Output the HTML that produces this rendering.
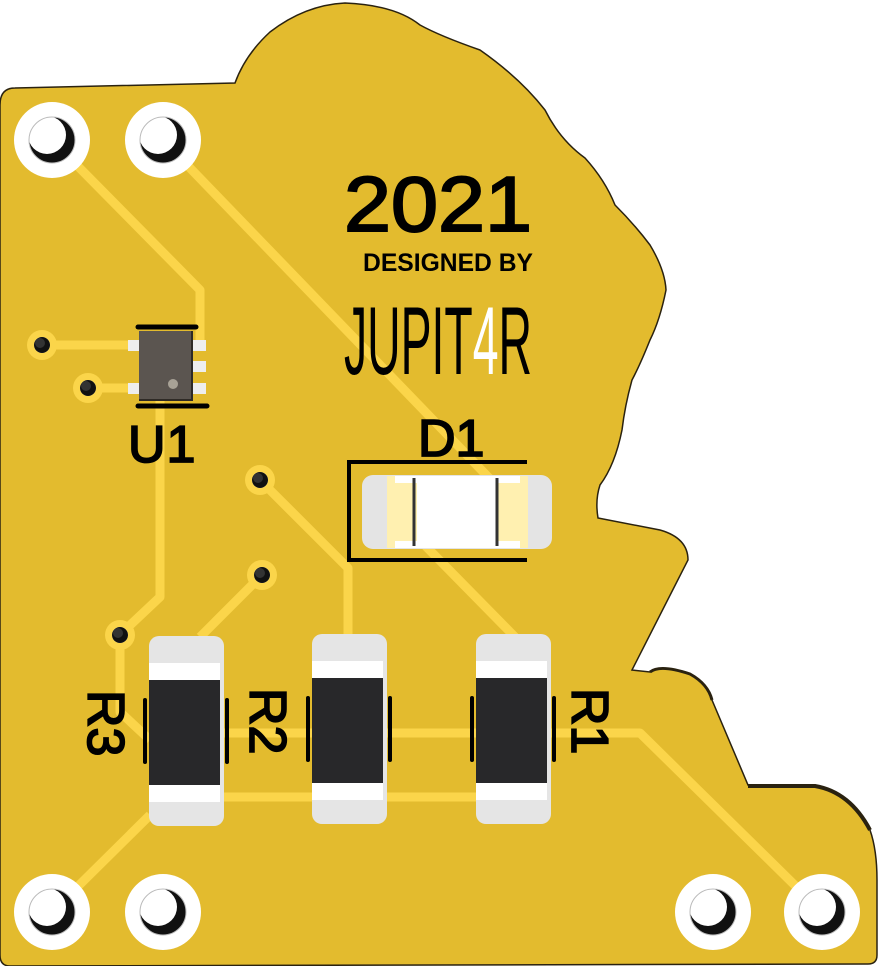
<!DOCTYPE html>
<html><head><meta charset="utf-8"><style>
html,body{margin:0;padding:0;background:#fff;}
svg{display:block;}
text{font-family:"Liberation Sans",sans-serif;}
</style></head><body>
<svg width="880" height="966" viewBox="0 0 880 966" xmlns="http://www.w3.org/2000/svg">
<defs>
<g id="mh">
<circle r="38" fill="#fff"/>
<circle r="23" fill="#111"/>
<circle cx="-5" cy="-5" r="19" fill="#fff"/>
<circle r="23" fill="none" stroke="#bbb" stroke-width="1"/>
</g>
<g id="via">
<circle r="15" fill="#fbd54a"/>
<circle r="8" fill="#fff"/>
<circle r="8" fill="#111"/>
<circle cx="-2" cy="-2" r="5" fill="#333"/>
</g>
</defs>
<!-- board -->
<path d="M0,105 Q0,88 15,88 L235,83 Q245,55 270,32 Q305,5 345,3 Q395,5 420,25 Q440,36 480,50 Q520,78 545,110 Q560,140 585,158 Q605,180 615,205 Q635,225 650,245 Q665,270 666,290 Q660,320 650,340 Q640,365 632,380 Q625,405 622,430 Q615,465 600,485 Q595,500 598,518 L660,530 Q688,538 688,560 L632,670 L650,672 Q660,664 690,674 Q708,684 712,700 L748,785 L815,785 Q850,792 870,830 Q877,850 877,880 L877,955 Q877,964 868,964 L10,966 Q0,966 0,955 Z" fill="#e3bb2e" stroke="#2a2210" stroke-width="1.5"/>
<path d="M650,672 Q660,664 690,674 Q708,684 712,700" fill="none" stroke="#2a2210" stroke-width="3"/>
<path d="M748,786 L815,786 Q850,792 870,830" fill="none" stroke="#2a2210" stroke-width="4"/>
<!-- traces -->
<g stroke="#fbd54a" stroke-width="9" fill="none" stroke-linejoin="round">
<path d="M52,140 L200,290 L200,345"/>
<path d="M163,140 L520,510"/>
<path d="M400,520 L515,637"/>
<path d="M42,345 L140,345"/>
<path d="M88,388 L140,388"/>
<path d="M160,395 L160,597 L125,630"/>
<path d="M120,640 L120,712 L150,740"/>
<path d="M262,575 L200,637"/>
<path d="M260,480 L348,568 L348,636"/>
<path d="M220,733 L480,733"/>
<path d="M220,797 L480,797"/>
<path d="M550,733 L640,733 L822,912"/>
<path d="M150,815 L52,912"/>
</g>
<use href="#via" x="42" y="345"/>
<use href="#via" x="88" y="388"/>
<use href="#via" x="260" y="480"/>
<use href="#via" x="262" y="575"/>
<use href="#via" x="120" y="635"/>
<use href="#mh" x="52" y="140"/>
<use href="#mh" x="163" y="140"/>
<use href="#mh" x="52" y="912"/>
<use href="#mh" x="163" y="912"/>
<use href="#mh" x="713" y="912"/>
<use href="#mh" x="822" y="912"/>
<!-- U1 -->
<g>
<rect x="128" y="340" width="12" height="11" fill="#eee"/>
<rect x="128" y="383" width="12" height="11" fill="#eee"/>
<rect x="192" y="340" width="14" height="11" fill="#eee"/>
<rect x="192" y="361" width="14" height="11" fill="#eee"/>
<rect x="192" y="383" width="14" height="11" fill="#eee"/>
<rect x="139" y="331" width="54" height="70" fill="#2e2a26"/>
<rect x="139" y="331" width="52" height="68" fill="#5b5550"/>
<circle cx="173" cy="384" r="5" fill="#a8a296"/>
<line x1="138" y1="327" x2="196" y2="327" stroke="#000" stroke-width="5" stroke-linecap="round"/>
<line x1="138" y1="406" x2="207" y2="406" stroke="#000" stroke-width="5" stroke-linecap="round"/>
<text x="128" y="462" font-size="52" fill="#000" stroke="#000" stroke-width="1.8" style="letter-spacing:1px">U1</text>
</g>
<!-- logo -->
<text x="344" y="231" font-size="78" fill="#000" stroke="#000" stroke-width="2" textLength="188" lengthAdjust="spacingAndGlyphs">2021</text>
<text x="363" y="271" font-size="25" font-weight="bold" fill="#000" textLength="170" lengthAdjust="spacingAndGlyphs">DESIGNED BY</text>
<g transform="translate(344,374) scale(1,2.2)">
<text x="0" y="0" font-size="44" fill="#000" textLength="188" lengthAdjust="spacingAndGlyphs">JUPIT<tspan fill="#fff">4</tspan>R</text>
</g>
<!-- D1 -->
<text x="418" y="456" font-size="52" fill="#000" stroke="#000" stroke-width="1.8">D1</text>
<path d="M527,462 L349,462 L349,560 L527,560" fill="none" stroke="#000" stroke-width="4"/>
<rect x="362" y="475" width="190" height="74" rx="11" fill="#e4e4e4"/>
<rect x="387" y="476" width="30" height="72" fill="#fff0b0"/>
<rect x="498" y="476" width="30" height="72" fill="#fff0b0"/>
<rect x="395" y="476" width="22" height="7" fill="#fff"/><rect x="395" y="541" width="22" height="7" fill="#fff"/>
<rect x="498" y="476" width="22" height="7" fill="#fff"/><rect x="498" y="541" width="22" height="7" fill="#fff"/>
<rect x="417" y="476" width="81" height="72" fill="#fff"/>
<line x1="414" y1="478" x2="414" y2="546" stroke="#333" stroke-width="3"/>
<line x1="497" y1="478" x2="497" y2="546" stroke="#333" stroke-width="3"/>
<!-- resistors -->
<g id="res">
<rect x="149" y="636" width="75" height="190" rx="10" fill="#e5e5e5"/>
<rect x="149" y="663" width="71" height="17" fill="#fff"/>
<rect x="149" y="680" width="71" height="105" fill="#28282a"/>
<rect x="149" y="785" width="71" height="17" fill="#fff"/>
<line x1="145" y1="700" x2="145" y2="762" stroke="#000" stroke-width="4" stroke-linecap="round"/>
<line x1="227" y1="700" x2="227" y2="762" stroke="#000" stroke-width="4" stroke-linecap="round"/>
</g>
<use href="#res" x="163" y="-2"/>
<use href="#res" x="327" y="-2"/>
<text font-size="52" fill="#000" stroke="#000" stroke-width="1.8" transform="translate(88,690) rotate(90)">R3</text>
<text font-size="52" fill="#000" stroke="#000" stroke-width="1.8" transform="translate(250,688) rotate(90)">R2</text>
<text font-size="52" fill="#000" stroke="#000" stroke-width="1.8" transform="translate(572,688) rotate(90)">R1</text>
</svg>
</body></html>
